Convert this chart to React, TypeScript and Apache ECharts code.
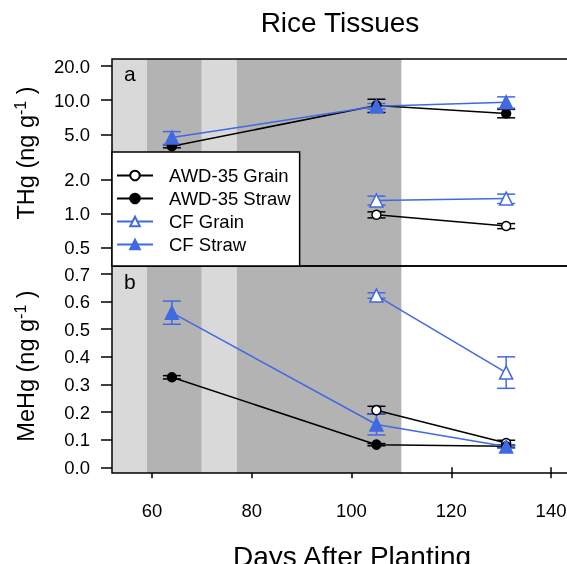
import React, { useEffect, useRef } from 'react';
import * as echarts from 'echarts';

const FONT = 'Liberation Sans, Arial, Helvetica, sans-serif';
const BLACK = '#000000';
const BLUE = '#4169E1';
const LIGHT = '#d9d9d9';
const DARK = '#b3b3b3';

// Days after planting
const days = [64, 105, 131];
const seriesNames = ['AWD-35 Grain', 'AWD-35 Straw', 'CF Grain', 'CF Straw'];

// Background shading periods (days)
const bandEdges = [52, 59, 70, 77, 110];
const bandShades = ['light', 'dark', 'light', 'dark'];

// Panel a: THg (ng g-1), means and error (+/-)
const thgAwdGrain = [null, 0.98, 0.78];
const thgAwdGrainErr = [null, 0.06, 0.04];
const thgAwdStraw = [3.93, 9.0, 7.65];
const thgAwdStrawErr = [0.12, 1.2, 0.65];
const thgCfGrain = [null, 1.31, 1.36];
const thgCfGrainErr = [null, 0.12, 0.13];
const thgCfStraw = [4.69, 8.85, 9.6];
const thgCfStrawErr = [0.6, 0.5, 1.1];

// Panel b: MeHg (ng g-1)
const mehgAwdGrain = [null, 0.207, 0.088];
const mehgAwdGrainErr = [null, 0.014, 0.01];
const mehgAwdStraw = [0.326, 0.082, 0.076];
const mehgAwdStrawErr = [0.006, 0.004, 0.005];
const mehgCfGrain = [null, 0.622, 0.343];
const mehgCfGrainErr = [null, 0.01, 0.057];
const mehgCfStraw = [0.56, 0.155, 0.075];
const mehgCfStrawErr = [0.042, 0.038, 0.005];

// Tick labels
const xTicks = [60, 80, 100, 120, 140];
const thgTicks = [0.5, 1, 2, 5, 10, 20];
const mehgTicks = [0, 0.1, 0.2, 0.3, 0.4, 0.5, 0.6, 0.7];

const pts = (vals: (number | null)[]) =>
  days.map((d, i) => (vals[i] == null ? null : [d, vals[i] as number])).filter((p) => p != null);
const errs = (vals: (number | null)[], e: (number | null)[]) =>
  days
    .map((d, i) => (vals[i] == null ? null : [d, (vals[i] as number) - (e[i] as number), (vals[i] as number) + (e[i] as number)]))
    .filter((p) => p != null);

const styleDefs = [
  { color: BLACK, symbol: 'circle', size: 9, fill: '#ffffff' },
  { color: BLACK, symbol: 'circle', size: 9, fill: BLACK },
  { color: BLUE, symbol: 'triangle', size: 13, fill: '#ffffff' },
  { color: BLUE, symbol: 'triangle', size: 13, fill: BLUE },
];

function lineSeries(idx: number, name: string, vals: (number | null)[], axis: number) {
  const s = styleDefs[idx];
  return {
    type: 'line',
    name,
    xAxisIndex: axis,
    yAxisIndex: axis,
    data: pts(vals),
    symbol: s.symbol,
    symbolSize: s.size,
    showSymbol: true,
    lineStyle: { color: s.color, width: 1.5 },
    itemStyle: { color: s.fill, borderColor: s.color, borderWidth: 1.5 },
    z: 5,
  };
}

function errSeries(color: string, vals: (number | null)[], e: (number | null)[], axis: number) {
  return {
    type: 'custom',
    xAxisIndex: axis,
    yAxisIndex: axis,
    data: errs(vals, e),
    encode: { x: 0, y: [1, 2] },
    z: 4,
    silent: true,
    renderItem: (params: any, api: any) => {
      const x = api.value(0);
      const lo = api.coord([x, api.value(1)]);
      const hi = api.coord([x, api.value(2)]);
      const hw = 9;
      const st = { stroke: color, lineWidth: 1.5, fill: 'none' };
      return {
        type: 'group',
        children: [
          { type: 'line', shape: { x1: lo[0], y1: lo[1], x2: hi[0], y2: hi[1] }, style: st },
          { type: 'line', shape: { x1: lo[0] - hw, y1: lo[1], x2: lo[0] + hw, y2: lo[1] }, style: st },
          { type: 'line', shape: { x1: hi[0] - hw, y1: hi[1], x2: hi[0] + hw, y2: hi[1] }, style: st },
        ],
      };
    },
  };
}

function bandSeries(axis: number) {
  return {
    type: 'line',
    xAxisIndex: axis,
    yAxisIndex: axis,
    data: [],
    z: 1,
    silent: true,
    markArea: {
      silent: true,
      data: bandShades.map((sh, i) => [
        { xAxis: bandEdges[i], itemStyle: { color: sh === 'light' ? LIGHT : DARK } },
        { xAxis: bandEdges[i + 1] },
      ]),
    },
  };
}

export default function App() {
  const ref = useRef<HTMLDivElement>(null);
  useEffect(() => {
    if (!ref.current) return;
    const chart = echarts.init(ref.current, null, { renderer: 'svg' });
    const gridCommon = {
      left: 112,
      width: 464,
      height: 207,
      show: true,
      borderColor: BLACK,
      borderWidth: 1.5,
      backgroundColor: 'transparent',
      z: 20,
      outerBoundsMode: 'none',
      containLabel: false,
    };
    const tickStyle = { show: true, inside: false, length: 11, lineStyle: { color: BLACK, width: 1.5 } };
    const labelStyle = { color: BLACK, fontSize: 18.5, fontFamily: FONT };
    const supRich = (label: string) => ({
      text: `{n|${label} (ng g}{s|-1}{n| )}`,
      align: 'center',
      verticalAlign: 'middle',
      rich: {
        n: { fontSize: 23.5, fontFamily: FONT, fill: BLACK, lineHeight: 28 },
        s: { fontSize: 16, fontFamily: FONT, fill: BLACK, verticalAlign: 'top', lineHeight: 28 },
      },
    });
    const option: any = {
      animation: false,
      grid: [
        { ...gridCommon, top: 59 },
        { ...gridCommon, top: 266 },
      ],
      xAxis: [
        {
          type: 'value', gridIndex: 0, min: 52, max: 145,
          axisLine: { show: false }, axisTick: { show: false }, axisLabel: { show: false }, splitLine: { show: false },
        },
        {
          type: 'value', gridIndex: 1, min: 52, max: 145,
          axisLine: { show: false },
          axisTick: { ...tickStyle, customValues: xTicks },
          axisLabel: { ...labelStyle, margin: 28, customValues: xTicks, formatter: (v: number) => String(v) },
          splitLine: { show: false },
        },
      ],
      yAxis: [
        {
          type: 'log', logBase: 10, gridIndex: 0, min: 0.347, max: 23.06,
          axisLine: { show: false },
          axisTick: { ...tickStyle, customValues: thgTicks },
          axisLabel: { ...labelStyle, margin: 22, customValues: thgTicks, formatter: (v: number) => Number(v).toFixed(1) },
          splitLine: { show: false }, minorTick: { show: false },
        },
        {
          type: 'value', gridIndex: 1, min: -0.0206, max: 0.729,
          axisLine: { show: false },
          axisTick: { ...tickStyle, customValues: mehgTicks },
          axisLabel: { ...labelStyle, margin: 22, customValues: mehgTicks, formatter: (v: number) => Number(v).toFixed(1) },
          splitLine: { show: false },
        },
      ],
      legend: {
        orient: 'vertical',
        left: 112,
        top: 152,
        backgroundColor: '#ffffff',
        borderColor: BLACK,
        borderWidth: 1.5,
        borderRadius: 0,
        padding: [14, 9, 12, 4],
        itemWidth: 36,
        itemHeight: 12,
        itemGap: 4,
        z: 30,
        textStyle: { color: BLACK, fontSize: 18.5, fontFamily: FONT, padding: [0, 0, 0, 11] },
        data: seriesNames,
      },
      graphic: [
        { type: 'text', x: 340, y: 22, z: 50, style: { text: 'Rice Tissues', fill: BLACK, fontSize: 28, fontFamily: FONT, align: 'center', verticalAlign: 'middle' } },
        { type: 'text', x: 352, y: 556, z: 50, style: { text: 'Days After Planting', fill: BLACK, fontSize: 28, fontFamily: FONT, align: 'center', verticalAlign: 'middle' } },
        { type: 'text', x: 124, y: 63, z: 50, style: { text: 'a', fill: BLACK, fontSize: 21, fontFamily: FONT, align: 'left', verticalAlign: 'top' } },
        { type: 'text', x: 124, y: 271, z: 50, style: { text: 'b', fill: BLACK, fontSize: 21, fontFamily: FONT, align: 'left', verticalAlign: 'top' } },
        { type: 'text', x: 26, y: 153, rotation: Math.PI / 2, z: 50, style: supRich('THg') },
        { type: 'text', x: 26, y: 366, rotation: Math.PI / 2, z: 50, style: supRich('MeHg') },
      ],
      series: [
        bandSeries(0),
        bandSeries(1),
        errSeries(BLACK, thgAwdGrain, thgAwdGrainErr, 0),
        errSeries(BLACK, thgAwdStraw, thgAwdStrawErr, 0),
        errSeries(BLUE, thgCfGrain, thgCfGrainErr, 0),
        errSeries(BLUE, thgCfStraw, thgCfStrawErr, 0),
        errSeries(BLACK, mehgAwdGrain, mehgAwdGrainErr, 1),
        errSeries(BLACK, mehgAwdStraw, mehgAwdStrawErr, 1),
        errSeries(BLUE, mehgCfGrain, mehgCfGrainErr, 1),
        errSeries(BLUE, mehgCfStraw, mehgCfStrawErr, 1),
        lineSeries(0, seriesNames[0], thgAwdGrain, 0),
        lineSeries(1, seriesNames[1], thgAwdStraw, 0),
        lineSeries(2, seriesNames[2], thgCfGrain, 0),
        lineSeries(3, seriesNames[3], thgCfStraw, 0),
        lineSeries(0, seriesNames[0], mehgAwdGrain, 1),
        lineSeries(1, seriesNames[1], mehgAwdStraw, 1),
        lineSeries(2, seriesNames[2], mehgCfGrain, 1),
        lineSeries(3, seriesNames[3], mehgCfStraw, 1),
      ],
    };
    chart.setOption(option);
    return () => chart.dispose();
  }, []);
  return <div ref={ref} style={{ position: 'fixed', left: 0, top: 0, width: 567, height: 564 }} />;
}
